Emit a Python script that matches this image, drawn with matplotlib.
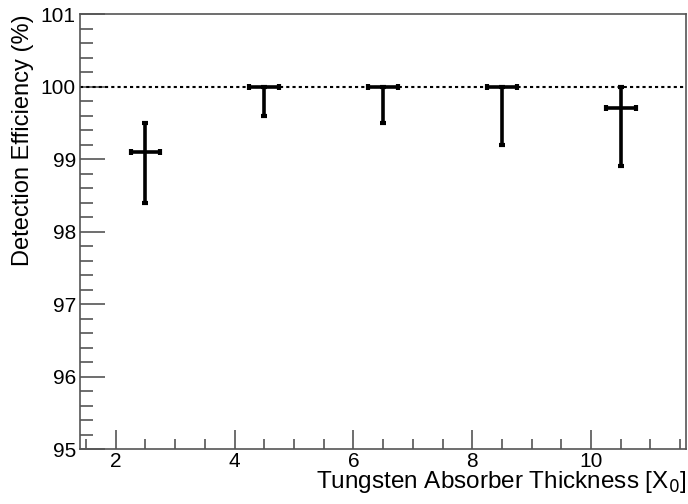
import matplotlib
matplotlib.use("Agg")
import matplotlib.pyplot as plt
from matplotlib.ticker import MultipleLocator

plt.rcParams["font.family"] = ["Liberation Sans", "DejaVu Sans"]

# absorber thickness in X0 and detection efficiency in %
thickness = [2.5, 4.5, 6.5, 8.5, 10.5]
thick_err = [0.25, 0.25, 0.25, 0.25, 0.25]
efficiency = [99.1, 100.0, 100.0, 100.0, 99.7]
eff_low = [0.7, 0.4, 0.5, 0.8, 0.8]
eff_high = [0.4, 0.0, 0.0, 0.0, 0.3]

fig = plt.figure(figsize=(6.88, 5.04), dpi=100)
ax = fig.add_axes([0.1163, 0.109, 0.881, 0.863])

ax.axhline(100, color="black", linestyle=(0, (1.5, 1.5)), linewidth=1.5)

ax.errorbar(
    thickness, efficiency,
    xerr=thick_err,
    yerr=[eff_low, eff_high],
    fmt="none",
    ecolor="black",
    elinewidth=2.6,
    capsize=2.2,
    capthick=3,
)

ax.set_xlim(1.4, 11.6)
ax.set_ylim(95, 101)

ax.xaxis.set_major_locator(MultipleLocator(2))
ax.xaxis.set_minor_locator(MultipleLocator(0.5))
ax.yaxis.set_major_locator(MultipleLocator(1))
ax.yaxis.set_minor_locator(MultipleLocator(0.2))

axis_grey = "#555555"
for s in ax.spines.values():
    s.set_color(axis_grey)
    s.set_linewidth(1.2)

ax.tick_params(axis="both", which="both", direction="in", color=axis_grey,
               top=False, right=False, labelsize=15, width=1.2)
ax.tick_params(axis="y", which="major", length=18, pad=3)
ax.tick_params(axis="y", which="minor", length=9)
ax.tick_params(axis="x", which="major", length=14, pad=2)
ax.tick_params(axis="x", which="minor", length=7)

ax.set_xlabel("Tungsten Absorber Thickness [X$_{0}$]", fontsize=17.5,
              loc="right", labelpad=-1)
ax.set_ylabel("Detection Efficiency (%)", fontsize=17, loc="top", labelpad=5)

fig.savefig("out.png", dpi=100)
